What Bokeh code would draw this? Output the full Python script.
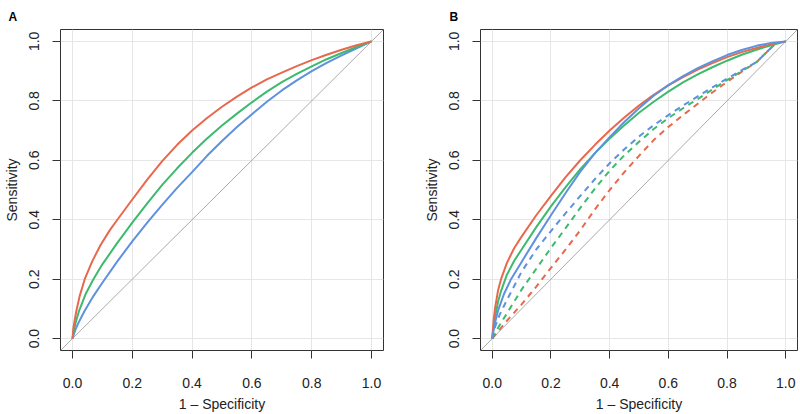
from bokeh.plotting import figure
from bokeh.layouts import row
from bokeh.models import Range1d, FixedTicker, Slope, NumeralTickFormatter
from bokeh.embed import file_html
from bokeh.resources import INLINE

# ---------------- data ----------------
tick_values = [0.0, 0.2, 0.4, 0.6, 0.8, 1.0]
tick_labels = ["0.0", "0.2", "0.4", "0.6", "0.8", "1.0"]

# Panel A (1 - specificity -> sensitivity)
a_red_fpr = [0, 0.003, 0.008, 0.013, 0.024, 0.041, 0.066, 0.094, 0.125, 0.15, 0.2, 0.25, 0.3, 0.35,
             0.4, 0.45, 0.5, 0.55, 0.6, 0.65, 0.7, 0.75, 0.8, 0.85, 0.9, 0.95, 1.0]
a_red_tpr = [0, 0.035, 0.065, 0.093, 0.143, 0.2, 0.26, 0.315, 0.365, 0.4, 0.468, 0.535, 0.597, 0.652,
             0.70, 0.742, 0.78, 0.814, 0.845, 0.872, 0.895, 0.917, 0.937, 0.955, 0.972, 0.987, 1.0]

a_green_fpr = [0, 0.005, 0.011, 0.022, 0.044, 0.07, 0.1, 0.15, 0.2, 0.25, 0.3, 0.35, 0.4,
               0.45, 0.5, 0.55, 0.6, 0.65, 0.7, 0.75, 0.8, 0.85, 0.9, 0.95, 1.0]
a_green_tpr = [0, 0.03, 0.055, 0.093, 0.15, 0.2, 0.25, 0.322, 0.39, 0.455, 0.517, 0.573, 0.625,
               0.673, 0.717, 0.757, 0.795, 0.831, 0.863, 0.891, 0.916, 0.94, 0.961, 0.981, 1.0]

a_blue_fpr = [0, 0.005, 0.01, 0.02, 0.04, 0.07, 0.1, 0.15, 0.2, 0.25, 0.3, 0.35, 0.4, 0.45,
              0.5, 0.55, 0.6, 0.65, 0.7, 0.75, 0.8, 0.85, 0.9, 0.95, 1.0]
a_blue_tpr = [0, 0.016, 0.03, 0.053, 0.092, 0.143, 0.188, 0.26, 0.327, 0.39, 0.45, 0.507, 0.56, 0.615,
              0.665, 0.712, 0.755, 0.797, 0.835, 0.869, 0.90, 0.928, 0.953, 0.977, 1.0]

# Panel B solid curves
b_fpr = [0, 0.005, 0.01, 0.02, 0.03, 0.05, 0.075, 0.1, 0.15, 0.2, 0.25, 0.3, 0.35, 0.4, 0.45,
         0.5, 0.55, 0.6, 0.65, 0.7, 0.75, 0.8, 0.85, 0.9, 0.95, 1.0]
b_red = [0, 0.065, 0.105, 0.163, 0.2, 0.255, 0.305, 0.343, 0.415, 0.48, 0.543, 0.6, 0.652, 0.70,
         0.744, 0.784, 0.82, 0.852, 0.88, 0.905, 0.927, 0.947, 0.964, 0.978, 0.99, 1.0]
b_green = [0, 0.045, 0.075, 0.125, 0.16, 0.215, 0.262, 0.30, 0.375, 0.445, 0.51, 0.57, 0.624, 0.673,
           0.718, 0.76, 0.797, 0.831, 0.862, 0.889, 0.913, 0.935, 0.955, 0.972, 0.987, 1.0]
b_blue_fpr = [0, 0.005, 0.01, 0.02, 0.04, 0.064, 0.1, 0.15, 0.2, 0.25, 0.3, 0.35, 0.4, 0.45,
              0.5, 0.55, 0.6, 0.65, 0.7, 0.75, 0.8, 0.85, 0.9, 0.95, 1.0]
b_blue = [0, 0.03, 0.055, 0.095, 0.15, 0.2, 0.258, 0.338, 0.415, 0.49, 0.562, 0.624, 0.678, 0.729,
          0.775, 0.817, 0.853, 0.883, 0.91, 0.933, 0.954, 0.971, 0.985, 0.995, 1.0]

# Panel B dashed curves
b_fpr_dash = [0, 0.01, 0.025, 0.05, 0.1, 0.15, 0.2, 0.25, 0.3, 0.35, 0.4, 0.45, 0.5, 0.55,
              0.6, 0.65, 0.7, 0.75, 0.8, 0.85, 0.9, 0.96]
b_red_dash = [0, 0.012, 0.03, 0.06, 0.115, 0.175, 0.238, 0.30, 0.365, 0.435, 0.50, 0.56, 0.615,
              0.668, 0.712, 0.752, 0.79, 0.828, 0.864, 0.898, 0.93, 0.988]
b_green_dash = [0, 0.02, 0.045, 0.085, 0.165, 0.235, 0.305, 0.372, 0.44, 0.505, 0.565, 0.617, 0.662,
                0.705, 0.742, 0.775, 0.806, 0.838, 0.87, 0.90, 0.93, 0.988]
b_blue_dash = [0, 0.04, 0.08, 0.13, 0.225, 0.30, 0.362, 0.422, 0.48, 0.537, 0.59, 0.637, 0.68,
               0.718, 0.752, 0.784, 0.815, 0.845, 0.875, 0.903, 0.93, 0.988]

RED = "#E8684D"
GREEN = "#3EBA6E"
BLUE = "#5E91DE"
FONT = "Liberation Sans"


def make_panel(letter, width, border_left, border_right, title_offset):
    p = figure(width=width, height=414,
               x_range=Range1d(-0.04, 1.04), y_range=Range1d(-0.04, 1.04),
               output_backend="svg", toolbar_location=None,
               min_border_left=border_left, min_border_right=border_right,
               min_border_top=29, min_border_bottom=60,
               background_fill_color="white", border_fill_color="white")
    p.title.text = letter
    p.title.text_font = FONT
    p.title.text_font_size = "12px"
    p.title.text_font_style = "bold"
    p.title.text_color = "black"
    p.title.align = "left"
    p.title.offset = title_offset
    p.title.standoff = 12

    p.outline_line_color = "#333333"
    p.outline_line_width = 1
    p.outline_line_alpha = 1

    for ax in (p.xaxis[0], p.yaxis[0]):
        ax.ticker = FixedTicker(ticks=tick_values)
        ax.formatter = NumeralTickFormatter(format="0.0")
        ax.major_label_overrides = dict(zip(tick_values, tick_labels))
        ax.axis_line_color = None
        ax.major_tick_out = 8
        ax.major_tick_in = 0
        ax.minor_tick_out = 0
        ax.major_tick_line_color = "#333333"
        ax.minor_tick_line_color = None
        ax.major_label_text_font = FONT
        ax.major_label_text_font_size = "14px"
        ax.major_label_text_color = "#222222"
        ax.axis_label_text_font = FONT
        ax.axis_label_text_font_size = "14px"
        ax.axis_label_text_font_style = "normal"
        ax.axis_label_text_color = "#222222"

    p.xaxis.axis_label = "1 \u2013 Specificity"
    p.yaxis.axis_label = "Sensitivity"
    p.xaxis.major_label_standoff = 19
    p.xaxis.axis_label_standoff = 5
    p.yaxis.major_label_standoff = 13
    p.yaxis.axis_label_standoff = 7
    p.yaxis.major_label_orientation = "vertical"

    p.grid.grid_line_color = "#E6E6E6"
    p.grid.grid_line_width = 1

    p.add_layout(Slope(gradient=1, y_intercept=0, line_color="#AAAAAA",
                       line_width=1, level="underlay"))
    return p


pa = make_panel("A", 420, 59, 37, -52)
pa.line(a_blue_fpr, a_blue_tpr, line_color=BLUE, line_width=2)
pa.line(a_green_fpr, a_green_tpr, line_color=GREEN, line_width=2)
pa.line(a_red_fpr, a_red_tpr, line_color=RED, line_width=2)

pb = make_panel("B", 380, 53, 3, -31)
pb.line(b_fpr_dash, b_red_dash, line_color=RED, line_width=2, line_dash="6 5")
pb.line(b_fpr_dash, b_green_dash, line_color=GREEN, line_width=2, line_dash="6 5")
pb.line(b_fpr_dash, b_blue_dash, line_color=BLUE, line_width=2, line_dash="6 5")
pb.line(b_fpr, b_green, line_color=GREEN, line_width=2)
pb.line(b_fpr, b_red, line_color=RED, line_width=2)
pb.line(b_blue_fpr, b_blue, line_color=BLUE, line_width=2)

layout = row(pa, pb)
open("out.html", "w").write(file_html(layout, INLINE))
